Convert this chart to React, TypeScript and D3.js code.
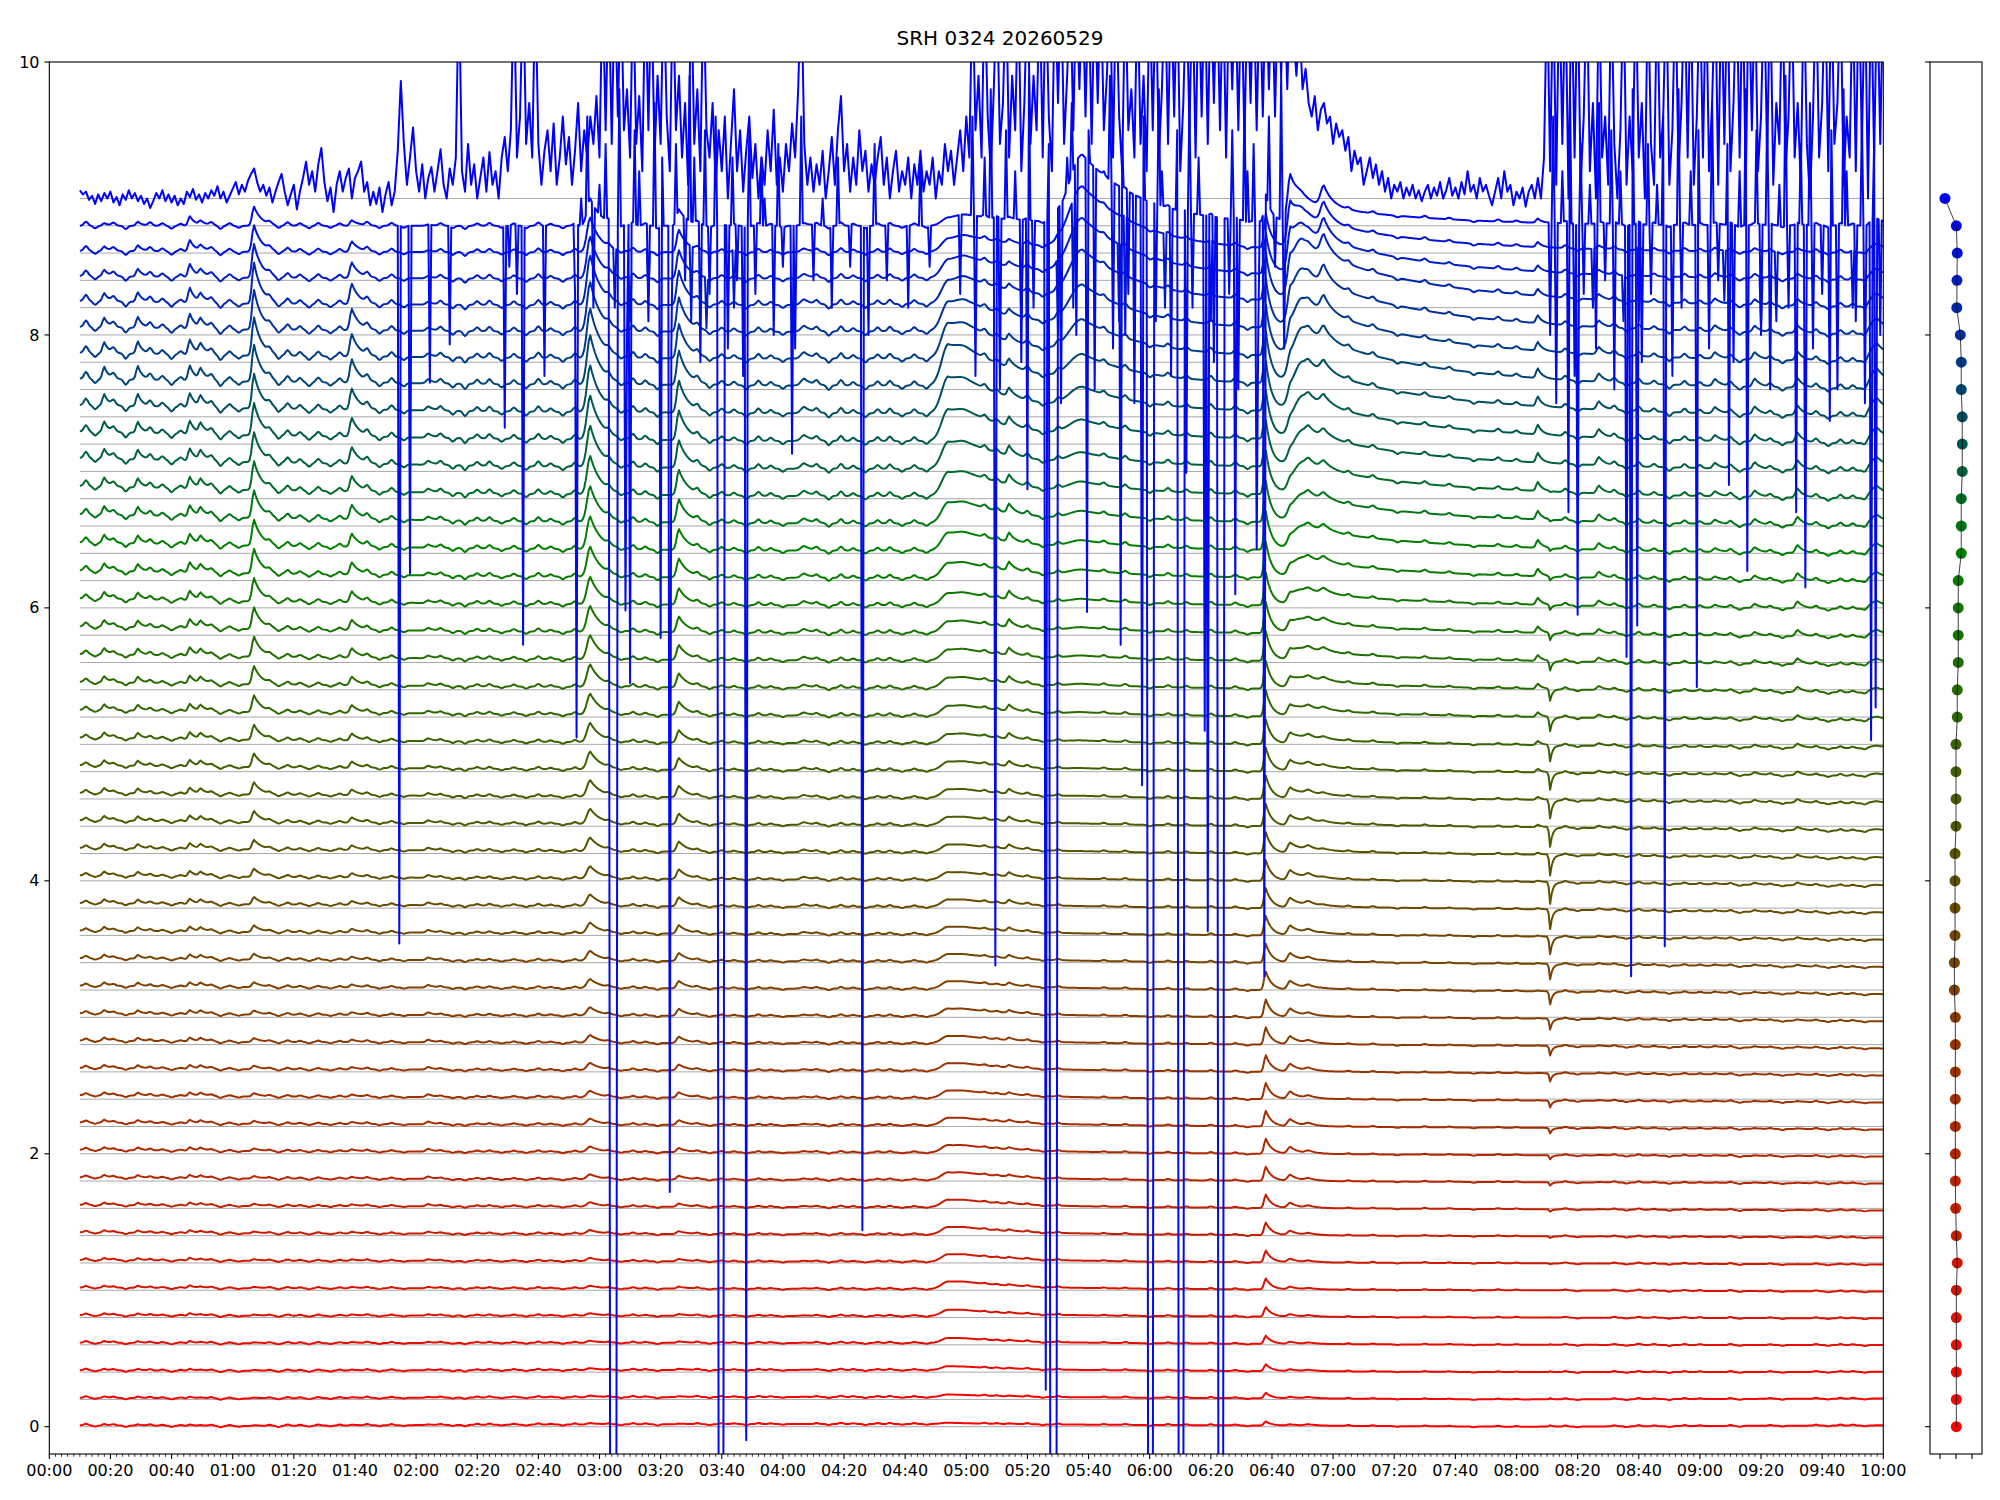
import React, { useMemo } from 'react';
import * as d3 from 'd3';

// channel offsets, bottom (red) to top (blue)
const LEVELS = [
  0, 0.2, 0.4, 0.6, 0.8, 1.0, 1.2, 1.4, 1.6, 1.8, 2.0, 2.2, 2.4, 2.6, 2.8, 3.0,
  3.2, 3.4, 3.6, 3.8, 4.0, 4.2, 4.4, 4.6, 4.8, 5.0, 5.2, 5.4, 5.6, 5.8, 6.0, 6.2,
  6.4, 6.6, 6.8, 7.0, 7.2, 7.4, 7.6, 7.8, 8.0, 8.2, 8.4, 8.6, 8.8, 9.0,
];

// x position of each channel dot in the side panel
const DOT_X = [
  0.02, 0.02, 0.02, 0.02, 0.02, 0.02, 0.08, 0.02, -0.02, -0.04, -0.04, -0.04, -0.04, -0.04, -0.04, -0.04,
  -0.1, -0.1, -0.06, -0.06, -0.06, -0.06, 0.0, 0.0, 0.0, 0.0, 0.08, 0.08, 0.14, 0.14, 0.14, 0.14,
  0.33, 0.33, 0.33, 0.39, 0.39, 0.39, 0.33, 0.33, 0.27, 0.05, 0.06, 0.08, 0.02, -0.69,
];

// levels where the amplitude profiles below are given
const ANCHOR_LEVELS = [0, 1, 2, 3, 4, 5, 6, 7, 7.6, 8.2, 8.8];

// slow baseline drift, per anchor level, at these minutes
const DRIFT_TIMES = [10, 60, 150, 240, 290, 480, 600];
const DRIFT_ROWS = [
  [0.01, 0.005, 0.015, 0.02, 0.02, 0.0, 0.01],
  [0.02, 0.015, 0.015, 0.01, 0.01, 0.0, -0.01],
  [0.03, 0.02, 0.015, 0.01, 0.01, -0.01, -0.02],
  [0.03, 0.02, 0.015, 0.01, 0.01, -0.01, -0.03],
  [0.04, 0.03, 0.02, 0.01, 0.01, -0.01, -0.04],
  [0.05, 0.035, 0.02, 0.01, 0.01, -0.01, -0.03],
  [0.07, 0.05, 0.03, 0.02, 0.02, 0.01, -0.01],
  [0.1, 0.07, 0.04, 0.02, 0.02, 0.03, 0.0],
  [0.08, 0.06, 0.04, 0.03, 0.03, 0.03, 0.0],
  [0.05, 0.03, 0.02, 0.02, 0.03, 0.03, 0.0],
  [0.0, 0.0, 0.0, 0.0, 0.0, 0.0, 0.0],
];

// bursts: peak minute, rise, decay, amplitude per anchor level
const FLARE_TIMES = [18, 29, 46, 49.5, 67, 99, 124, 177, 206, 247, 294, 300, 314, 338, 398, 406, 410, 412, 417, 487, 491, 507, 545, 558, 572, 598];
const FLARE_RISE = [0.8, 0.8, 0.8, 0.8, 0.9, 0.9, 1, 1.5, 1, 1.5, 3, 5, 0.8, 6, 0.8, 1.2, 4, 1.5, 1.5, 0.8, 0.4, 1, 1, 1, 1, 3];
const FLARE_DECAY = [1.5, 1.5, 1.8, 2, 2.5, 2.5, 2, 3.5, 3, 2.5, 14, 40, 2, 20, 2, 3, 40, 3, 3, 1.5, 0.8, 2, 2, 2, 2, 5];
const FLARE_AMPS = [
  [0.01, 0.015, 0.02, 0.025, 0.03, 0.04, 0.05, 0.07, 0.09, 0.06, 0.02],
  [0.01, 0.015, 0.02, 0.025, 0.03, 0.04, 0.05, 0.07, 0.1, 0.07, 0.03],
  [0.01, 0.02, 0.025, 0.03, 0.04, 0.05, 0.07, 0.09, 0.11, 0.11, 0.07],
  [0.005, 0.01, 0.02, 0.025, 0.03, 0.04, 0.05, 0.07, 0.08, 0.06, 0.03],
  [0.005, 0.01, 0.02, 0.03, 0.06, 0.11, 0.17, 0.22, 0.27, 0.3, 0.14],
  [0.005, 0.01, 0.015, 0.02, 0.03, 0.05, 0.08, 0.12, 0.17, 0.15, 0.04],
  [0.005, 0.01, 0.02, 0.02, 0.02, 0.02, 0.02, 0.03, 0.03, 0.02, 0.01],
  [0.01, 0.02, 0.04, 0.06, 0.09, 0.14, 0.2, 0.3, 0.36, 0.36, 0.2],
  [0.005, 0.015, 0.03, 0.05, 0.07, 0.09, 0.12, 0.2, 0.25, 0.25, 0.12],
  [0, 0.005, 0.01, 0.01, 0.02, 0.02, 0.03, 0.04, 0.05, 0.04, 0.02],
  [0.01, 0.05, 0.05, 0.05, 0.05, 0.06, 0.08, 0.18, 0.28, 0.15, 0.05],
  [0, 0.02, 0.02, 0.02, 0.02, 0.03, 0.04, 0.08, 0.1, 0.1, 0.05],
  [0.005, 0.01, 0.015, 0.02, 0.03, 0.04, 0.06, 0.07, 0.06, 0.04, 0.02],
  [0, 0, 0, 0, 0, 0.01, 0.03, 0.08, 0.18, 0.35, 0.5],
  [0.03, 0.08, 0.11, 0.13, 0.15, 0.18, 0.24, 0.34, 0.38, 0.35, 0.2],
  [0.01, 0.02, 0.05, 0.06, 0.07, 0.07, 0.06, 0.05, 0.1, 0.2, 0.3],
  [0, 0, 0, 0.01, 0.02, 0.04, 0.1, 0.25, 0.38, 0.4, 0.15],
  [0.01, 0.01, 0.02, 0.02, 0.03, 0.03, 0.03, 0.06, 0.05, 0.03, 0],
  [0, 0, 0, 0, 0.01, 0.02, 0.04, 0.06, 0.1, 0.15, 0.15],
  [0, 0, 0, 0.005, 0.01, 0.03, 0.05, 0.07, 0.07, 0.05, 0.03],
  [0.01, 0.0, -0.03, -0.08, -0.16, -0.12, -0.04, 0, 0, 0, 0],
  [0, 0, 0.005, 0.01, 0.015, 0.02, 0.04, 0.06, 0.06, 0.04, 0.02],
  [0, 0, 0.005, 0.01, 0.01, 0.01, 0.02, 0.04, 0.05, 0.04, 0.02],
  [0, 0, 0.005, 0.01, 0.015, 0.02, 0.03, 0.05, 0.06, 0.04, 0.02],
  [0, 0, 0.005, 0.01, 0.02, 0.03, 0.05, 0.07, 0.07, 0.05, 0.02],
  [0, 0, 0, 0, 0.01, 0.02, 0.06, 0.1, 0.15, 0.1, 0.05],
];

// small wiggles between the bursts
const MINOR_TIMES = [
  12, 15, 21, 25, 33, 37, 40, 43, 53, 56, 59, 62, 72, 75, 78, 82, 85, 88, 92, 95,
  104, 108, 112, 116, 128, 132, 136, 140, 144, 148, 152, 156, 160, 164, 168, 172, 183, 187, 191, 195,
  199, 212, 216, 220, 224, 228, 232, 236, 240, 251, 255, 259, 263, 267, 271, 275, 279, 283, 287, 306,
  310, 320, 325, 330, 345, 352, 360, 366, 372, 380, 388, 392, 425, 433, 441, 450, 458, 466, 474, 480,
  496, 500, 512, 516, 520, 525, 530, 535, 540, 550, 553, 563, 567, 578, 582, 586, 590, 594,
];
const MINOR_WEIGHTS = [
  1, -0.6, 0.7, -0.8, 0.8, 0.6, -0.7, 0.5, 0.7, -0.8, 0.6, -0.5, 0.6, -0.7, 0.8, 0.6, -0.6, 0.7, -0.5, 0.6,
  0.8, -0.6, 0.7, -0.5, 0.6, -0.6, -0.8, 0.6, 0.7, -0.5, 0.6, -0.6, 0.8, 0.5, -0.6, 0.7, 0.6, -0.5, 0.8, 0.6,
  -0.7, 0.7, -0.6, 0.6, 0.5, -0.6, 0.7, 0.5, -0.5, 0.6, -0.7, 0.8, 0.5, -0.6, 0.6, 0.7, -0.5, 0.6, -0.5, 0.6,
  0.5, 0.7, -0.5, 0.6, 0.5, 0.6, -0.5, 0.6, 0.5, 0.7, 0.6, -0.5, 0.5, 0.5, -0.4, 0.5, 0.4, -0.4, 0.5, 0.4,
  0.6, -0.5, 0.6, -0.5, 0.7, 0.5, -0.6, 0.6, 0.5, 0.6, -0.5, 0.5, -0.5, 0.6, -0.5, 0.6, 0.5, -0.5,
];
const MINOR_PROFILE = [0.012, 0.012, 0.014, 0.016, 0.018, 0.022, 0.03, 0.045, 0.05, 0.045, 0.03];

// top channel (9.0), one value per minute from 00:10 to 10:00
const TOP_START = 10;
const TOP_VALUES = [
  9.06, 9.03, 9.05, 8.99, 9.02, 8.96, 9.03, 8.98, 9.04, 9.0,
  9.05, 8.97, 9.01, 8.95, 9.03, 8.99, 9.06, 9.0, 9.04, 8.98,
  9.02, 8.96, 9.0, 8.93, 8.98, 9.04, 9.0, 9.06, 8.98, 9.03,
  8.97, 9.02, 8.95, 9.0, 8.96, 9.05, 9.01, 9.07, 8.99, 9.03,
  8.97, 9.04, 9.0, 9.06, 9.02, 9.09, 9.0, 9.05, 8.97, 9.02,
  9.07, 9.12, 9.03, 9.1, 9.05, 9.13, 9.18, 9.22, 9.12, 9.05,
  9.1, 9.02, 9.08, 8.97, 9.05, 9.12, 9.18, 9.05, 8.95, 9.03,
  9.1, 8.92, 9.05, 9.15, 9.27, 9.1, 9.2, 9.05, 9.25, 9.37,
  9.12, 8.98, 9.08, 8.9, 9.1, 9.2, 9.05, 9.15, 9.22, 9.0,
  9.15, 9.2, 9.27, 9.05, 9.12, 8.95, 9.05, 8.96, 9.08, 8.9,
  9.03, 9.12, 8.95, 9.05, 9.35, 9.86, 9.4, 9.1, 9.3, 9.52,
  9.2, 9.05, 9.25, 9.0, 9.15, 9.23, 9.05, 9.2, 9.36, 9.1,
  9.0, 9.22, 9.1, 9.3, 10.6, 9.2, 9.05, 9.4, 9.1, 9.25,
  9.0, 9.15, 9.3, 9.05, 9.34, 9.1, 9.2, 9.0, 9.3, 9.45,
  9.2, 9.5, 10.6, 9.3, 9.6, 10.6, 9.4, 9.7, 9.3, 10.6,
  9.4, 9.1, 9.35, 9.5, 9.2, 9.55, 9.1, 9.3, 9.6, 9.25,
  9.45, 9.1, 9.35, 9.7, 9.2, 9.5, 9.3, 9.6, 9.4, 9.75,
  9.3, 10.6, 9.5, 10.6, 9.4, 10.6, 9.6, 10.6, 9.5, 9.8,
  9.3, 10.6, 9.4, 9.75, 9.2, 10.6, 9.5, 10.6, 9.3, 9.9,
  9.4, 10.6, 9.6, 9.2, 10.6, 9.5, 9.9, 9.3, 9.7, 9.1,
  10.6, 9.4, 9.8, 9.2, 10.6, 9.5, 9.3, 9.7, 9.1, 9.5,
  9.2, 9.6, 9.0, 9.4, 9.8, 9.2, 9.5, 9.05, 9.35, 9.6,
  9.15, 9.4, 9.0, 9.3, 9.1, 9.5, 9.2, 9.65, 9.1, 9.3,
  9.05, 9.4, 9.2, 9.55, 9.3, 9.8, 10.6, 9.4, 9.1, 9.3,
  9.05, 9.25, 9.1, 9.35, 9.0, 9.2, 9.45, 9.1, 9.5, 9.75,
  9.2, 9.4, 9.05, 9.3, 9.1, 9.5, 9.2, 9.35, 9.05, 9.25,
  9.1, 9.3, 9.45, 9.1, 9.3, 9.0, 9.2, 9.35, 9.05, 9.2,
  9.1, 9.3, 9.0, 9.25, 9.1, 9.35, 9.05, 9.2, 9.1, 9.3,
  9.0, 9.2, 9.1, 9.4, 9.2, 9.35, 9.1, 9.3, 9.5, 9.2,
  9.6, 9.3, 10.6, 9.5, 9.9, 9.3, 10.6, 9.6, 9.2, 9.8,
  10.6, 9.4, 9.7, 10.6, 9.3, 9.9, 9.5, 10.6, 9.2, 9.7,
  10.6, 9.4, 9.9, 9.5, 10.6, 9.3, 10.6, 9.6, 9.2, 10.6,
  9.7, 10.6, 9.4, 9.9, 10.6, 9.5, 10.6, 9.8, 10.6, 9.6,
  10.6, 9.4, 10.6, 9.7, 10.6, 9.5, 9.9, 10.6, 9.3, 10.6,
  9.6, 9.2, 10.6, 9.5, 9.8, 9.3, 10.6, 9.4, 9.9, 9.2,
  10.6, 9.5, 10.6, 9.3, 9.8, 10.6, 9.4, 10.6, 9.6, 10.6,
  9.2, 9.7, 10.6, 9.5, 10.6, 9.3, 10.6, 9.6, 10.6, 9.4,
  10.6, 9.7, 10.6, 9.5, 10.6, 9.3, 10.6, 9.8, 10.6, 9.5,
  10.6, 9.4, 10.6, 9.7, 10.6, 9.5, 10.6, 9.6, 10.6, 9.8,
  10.6, 9.6, 10.6, 9.9, 10.6, 9.8, 10.6, 10.2, 9.9, 10.3,
  9.8, 9.95, 9.7, 9.6, 9.75, 9.5, 9.65, 9.7, 9.55, 9.6,
  9.4, 9.55, 9.45, 9.5, 9.35, 9.45, 9.2, 9.35, 9.25, 9.3,
  9.1, 9.2, 9.3, 9.15, 9.25, 9.1, 9.2, 9.05, 9.15, 9.0,
  9.1, 9.05, 9.12, 9.0, 9.08, 9.02, 9.1, 9.0, 9.06, 8.98,
  9.05, 9.1, 9.0, 9.08, 9.02, 9.12, 9.0, 9.06, 9.15, 9.02,
  9.08, 9.0, 9.12, 9.03, 9.2, 9.05, 9.1, 9.0, 9.15, 9.05,
  9.1, 9.02, 8.95, 9.05, 9.15, 9.0, 9.2, 9.05, 9.1, 8.95,
  9.05, 9.0, 9.08, 8.94, 9.05, 9.1, 9.0, 9.15, 9.0, 9.3,
  10.6, 9.2, 10.6, 9.1, 10.6, 9.4, 10.6, 9.0, 10.6, 9.3,
  10.6, 9.1, 9.6, 10.6, 9.2, 9.7, 9.0, 10.6, 9.3, 9.6,
  9.1, 10.6, 9.4, 9.0, 9.5, 10.6, 9.1, 9.6, 9.2, 10.6,
  9.3, 9.7, 9.0, 10.6, 9.4, 9.1, 10.6, 9.3, 9.6, 10.6,
  9.1, 9.5, 10.6, 9.2, 9.7, 10.6, 9.3, 10.6, 9.1, 9.6,
  10.6, 9.3, 10.6, 9.2, 9.7, 10.6, 9.1, 10.6, 9.4, 10.6,
  9.2, 9.7, 10.6, 9.3, 10.6, 9.1, 10.6, 9.5, 10.6, 9.2,
  9.6, 10.6, 9.3, 10.6, 9.1, 9.7, 9.4, 10.6, 9.2, 9.6,
  10.6, 9.3, 9.7, 9.1, 10.6, 9.4, 9.0, 9.6, 10.6, 9.3,
  9.7, 10.6, 9.2, 10.6, 9.4, 9.7, 10.6, 9.1, 9.6, 9.3,
  10.6, 9.2, 10.6, 9.4, 10.6, 9.0, 10.6, 9.3, 10.6, 9.4,
  10.6,
];

// narrow drop-outs of the 8.8 channel: minute, lowest value
const DEEP_DIPS = [
  [114.7, 3.54], [118, 6.25], [124.7, 7.65], [131, 7.93], [149, 7.32], [154.8, 5.73], [162, 7.7],
  [172.3, 5.05], [188.6, 5.98], [190, 5.45], [199.8, 5.78], [202.8, 1.72], [228, -0.1], [242.8, 7.13],
  [265.8, 1.44], [309.6, 3.38], [320, 6.87], [326, 0.27], [339.6, 5.97], [350.4, 5.73], [357.5, 4.7],
  [372, 6.99], [377.8, 5.1], [379, 3.63], [388, 6.1], [395, 6.43], [397.6, 3.3], [497, 6.7], [500, 5.95],
  [516, 5.64], [517.3, 3.3], [519.4, 5.87], [528.6, 3.52], [539, 5.42], [549.5, 6.9], [555.7, 6.27],
  [571.6, 6.7], [574.5, 6.15], [582.4, 7.37], [596.2, 5.03], [597.5, 5.27],
];
// wider drop-outs that leave the plot: start, end, value
const WIDE_DIPS = [
  [183.6, 185.7, -1], [219.2, 220.7, -1], [327.6, 329.6, -1],
  [359.3, 361.0, -1], [369.3, 370.9, -1], [382.7, 384.2, -1],
];
// spikes of the 8.8 channel inside the noisy intervals
const SPIKES_88 = [
  [150.5, 8.5], [153, 8.3], [172, 8.3], [174, 9.0], [178, 8.2], [180, 9.1], [189, 8.0], [193, 9.2],
  [196, 8.1], [200.5, 9.3], [203.5, 7.9], [208, 8.4], [211, 9.3], [213, 7.8], [216, 8.3], [219, 9.1],
  [222, 7.9], [225, 8.4], [227, 7.7], [231, 8.3], [234, 9.0], [237, 8.0], [240, 8.5], [244, 7.9],
  [250, 8.4], [253, 9.0], [256, 8.2], [262, 8.5], [268, 8.0], [274, 8.4], [281, 8.2], [288, 8.5],
  [298, 8.3], [303, 7.7], [306, 9.3], [311, 7.6], [316, 9.2], [318, 7.8], [322, 8.2], [331, 7.5],
  [333, 9.3], [336, 8.0], [342, 7.6], [345, 9.2], [348, 7.9], [353, 8.3], [355, 7.5], [362, 8.1],
  [364, 9.2], [367, 7.7], [374, 8.2], [376, 9.3], [381, 7.8], [386, 8.3], [389, 7.6], [392, 9.2],
  [395.5, 8.0], [401, 8.5], [404, 7.9], [491, 8.0], [493, 7.5], [495, 9.2], [499, 7.7], [502, 8.3],
  [504, 9.1], [506, 7.9], [509, 8.4], [512, 7.6], [514, 9.2], [521, 7.8], [524, 8.3], [526, 9.1],
  [531, 7.7], [534, 8.2], [537, 9.2], [543, 7.9], [546, 8.4], [551, 7.8], [553, 9.2], [560, 8.0],
  [563, 7.6], [566, 9.1], [569, 8.2], [577, 7.9], [580, 8.3], [585, 7.6], [588, 9.2], [591, 8.1],
  [594, 7.5], [599, 8.0],
  [176, 9.6], [182, 9.4], [186.5, 9.8], [191.5, 9.5], [198, 9.7], [205, 9.4], [209.5, 9.9], [214.5, 9.5],
  [218, 9.6], [223.5, 9.3], [229, 9.5], [233, 9.3], [238.5, 9.4], [246, 9.6], [258, 9.3], [270, 9.4],
  [285, 9.3], [302, 9.6], [308, 9.8], [313, 9.5], [320.5, 9.9], [327, 9.4], [334.5, 9.7], [340, 9.5],
  [347, 9.9], [351, 9.4], [358, 9.6], [363, 9.8], [369, 9.5], [373, 9.7], [378, 9.4], [383.5, 9.8],
  [387, 9.5], [391, 9.7], [394, 9.4], [399, 9.6], [403, 9.9], [492, 9.6], [497.5, 9.8], [501, 9.4],
  [507, 9.7], [511, 9.5], [517.8, 9.8], [523, 9.4], [528, 9.6], [533, 9.8], [539.5, 9.5], [544, 9.7],
  [549, 9.4], [555, 9.8], [558.5, 9.5], [562, 9.6], [568, 9.9], [573, 9.4], [576, 9.7], [583, 9.5],
  [587, 9.8], [593, 9.6], [597, 9.4],
];
const SPIKES_86 = [
  [185, 8.2], [196, 8.3], [210, 8.1], [224, 8.2], [318, 8.1], [335, 8.2], [352, 8.0], [365, 8.2],
  [380, 8.1], [505, 8.2], [520, 8.1], [548, 8.25], [565, 8.1], [590, 8.2],
];
const SPIKES_84 = [[190, 8.1], [215, 8.05], [330, 8.0], [350, 8.1], [515, 8.1], [560, 8.05]];

const X_TICK_MINUTES = d3.range(0, 601, 20);
const X_MINOR_MINUTES = d3.range(0, 601, 2).filter((m) => m % 20 !== 0);
const Y_TICKS = [0, 2, 4, 6, 8, 10];
const SIDE_X_TICKS = [-1, 0, 1];

const W = 2000;
const H = 1500;
const M = { left: 49.3, right: 1883.3, top: 62, bottom: 1454 };
const SIDE = { left: 1930, right: 1982 };
const STEP = 0.5;
const FONT = 'DejaVu Sans, sans-serif';

const fmt = (m: number) =>
  `${String(Math.floor(m / 60)).padStart(2, '0')}:${String(m % 60).padStart(2, '0')}`;

const atLevel = (row: number[], level: number) =>
  d3.scaleLinear().domain(ANCHOR_LEVELS).range(row).clamp(true)(level);

function buildChannel(level: number, times: number[]) {
  const amps = FLARE_AMPS.map((row) => atLevel(row, level));
  const minorAmp = atLevel(MINOR_PROFILE, level);
  const driftRow = DRIFT_TIMES.map((_, j) => atLevel(DRIFT_ROWS.map((r) => r[j]), level));
  const drift = d3.scaleLinear().domain(DRIFT_TIMES).range(driftRow);

  const values = times.map((t) => {
    let v = level + drift(t);
    FLARE_TIMES.forEach((t0, k) => {
      const dt = t - t0;
      if (dt < 0) {
        if (dt > -5 * FLARE_RISE[k]) v += amps[k] * Math.exp(-((dt / FLARE_RISE[k]) ** 2));
      } else if (dt < 8 * FLARE_DECAY[k]) {
        v += amps[k] * Math.exp(-dt / FLARE_DECAY[k]);
      }
    });
    MINOR_TIMES.forEach((t0, k) => {
      const dt = t - t0;
      if (Math.abs(dt) < 3) v += minorAmp * MINOR_WEIGHTS[k] * Math.exp(-((dt / 0.9) ** 2));
    });
    return v;
  });

  const idx = (m: number) => Math.max(0, Math.min(times.length - 1, Math.round((m - times[0]) / STEP)));
  const put = (list: number[][]) => list.forEach(([m, v]) => (values[idx(m)] = v));

  if (level === 8.8) {
    put(SPIKES_88);
    put(DEEP_DIPS);
    WIDE_DIPS.forEach(([a, b, v]) => {
      for (let i = idx(a); i <= idx(b); i++) values[i] = v;
    });
  }
  if (level === 8.6) put(SPIKES_86);
  if (level === 8.4) put(SPIKES_84);

  return times.map((t, i) => [t, values[i]] as [number, number]);
}

export default function App() {
  const x = d3.scaleLinear().domain([0, 600]).range([M.left, M.right]);
  const y = d3.scaleLinear().domain([-0.2, 10]).range([M.bottom, M.top]);
  const sx = d3.scaleLinear().domain([-1.625, 1.625]).range([SIDE.left, SIDE.right]);
  const color = d3
    .scaleLinear<string>()
    .domain([0, 6.4, 9])
    .range(['#ff0000', '#008000', '#0000ff'])
    .interpolate(d3.interpolateRgb);

  const traces = useMemo(() => {
    const times = d3.range(10, 600 + STEP / 2, STEP);
    return LEVELS.map((level) => {
      if (level === 9.0) return TOP_VALUES.map((v, i) => [TOP_START + i, v] as [number, number]);
      return buildChannel(level, times);
    });
  }, []);

  const line = d3
    .line<[number, number]>()
    .x((d) => x(d[0]))
    .y((d) => y(d[1]));

  const sideLine = d3
    .line<number>()
    .x((_, i) => sx(DOT_X[i]))
    .y((d) => y(d));

  return (
    <svg
      width={W}
      height={H}
      style={{ position: 'absolute', left: 0, top: 0, background: '#fff' }}
      fontFamily={FONT}
    >
      <defs>
        <clipPath id="main-clip">
          <rect x={M.left} y={M.top} width={M.right - M.left} height={M.bottom - M.top} />
        </clipPath>
      </defs>
      <rect width={W} height={H} fill="#fff" />

      <text x={1000} y={45} fontSize={20} textAnchor="middle" fill="#000">
        SRH 0324 20260529
      </text>

      {/* channel traces */}
      <g clipPath="url(#main-clip)">
        {LEVELS.map((level) => (
          <line
            key={`g${level}`}
            x1={x(10)}
            x2={x(600)}
            y1={y(level)}
            y2={y(level)}
            stroke="#a8a8a8"
            strokeWidth={1}
          />
        ))}
        {traces.map((pts, i) => (
          <path
            key={`t${i}`}
            d={line(pts) || ''}
            fill="none"
            stroke={color(LEVELS[i])}
            strokeWidth={2}
            strokeLinejoin="round"
          />
        ))}
      </g>

      {/* main axes */}
      <rect
        x={M.left}
        y={M.top}
        width={M.right - M.left}
        height={M.bottom - M.top}
        fill="none"
        stroke="#000"
        strokeWidth={1.1}
      />
      {X_MINOR_MINUTES.map((m) => (
        <line key={`xm${m}`} x1={x(m)} x2={x(m)} y1={M.bottom} y2={M.bottom + 2.8} stroke="#000" strokeWidth={0.8} />
      ))}
      {X_TICK_MINUTES.map((m) => (
        <g key={`xt${m}`}>
          <line x1={x(m)} x2={x(m)} y1={M.bottom} y2={M.bottom + 4.9} stroke="#000" strokeWidth={1.1} />
          <text x={x(m)} y={M.bottom + 9.8} dy="0.76em" fontSize={16} textAnchor="middle" fill="#000">
            {fmt(m)}
          </text>
        </g>
      ))}
      {Y_TICKS.map((v) => (
        <g key={`yt${v}`}>
          <line x1={M.left - 4.9} x2={M.left} y1={y(v)} y2={y(v)} stroke="#000" strokeWidth={1.1} />
          <text x={M.left - 9.8} y={y(v)} dy="0.35em" fontSize={16} textAnchor="end" fill="#000">
            {v}
          </text>
        </g>
      ))}

      {/* side panel: channel positions */}
      <rect
        x={SIDE.left}
        y={M.top}
        width={SIDE.right - SIDE.left}
        height={M.bottom - M.top}
        fill="none"
        stroke="#000"
        strokeWidth={1.1}
      />
      {Y_TICKS.map((v) => (
        <line key={`sy${v}`} x1={SIDE.left - 4.9} x2={SIDE.left} y1={y(v)} y2={y(v)} stroke="#000" strokeWidth={1.1} />
      ))}
      {SIDE_X_TICKS.map((v) => (
        <line key={`sx${v}`} x1={sx(v)} x2={sx(v)} y1={M.bottom} y2={M.bottom + 4.9} stroke="#000" strokeWidth={1.1} />
      ))}
      {LEVELS.map((level, i) => (
        <circle key={`d${i}`} cx={sx(DOT_X[i])} cy={y(level)} r={5.5} fill={color(level)} />
      ))}
      <path d={sideLine(LEVELS) || ''} fill="none" stroke="#000" strokeOpacity={0.75} strokeWidth={1} />
    </svg>
  );
}
